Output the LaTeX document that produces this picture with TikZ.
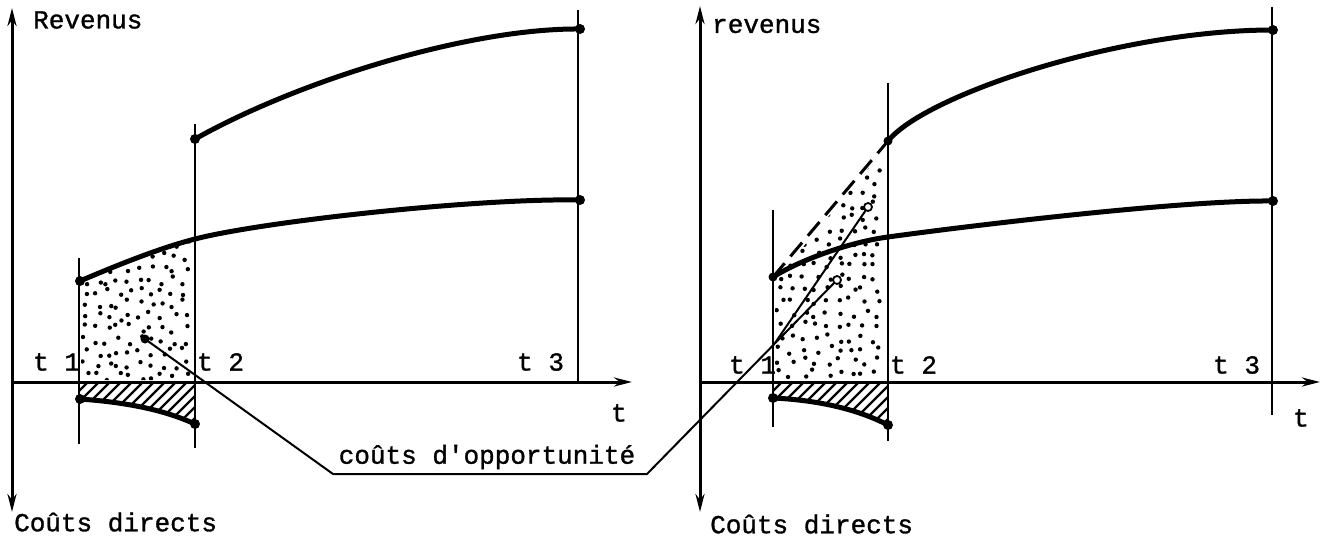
\documentclass[tikz,border=0pt]{standalone}
\usepackage{fontspec}
\newfontfamily\tw{Liberation Mono}[FakeBold=1.2]
\usetikzlibrary{arrows.meta}
\begin{document}
\begin{tikzpicture}[x=1pt,y=-1pt,
  lbl/.style={font=\tw\fontsize{26}{28}\selectfont, inner sep=0pt},
  axis/.style={line width=3pt},
  tline/.style={line width=1.6pt},
  curve/.style={line width=5pt, line cap=round},
  leader/.style={line width=2pt},
  dot/.style={circle, fill=black, inner sep=0pt, minimum size=10pt},
  odot/.style={circle, draw=black, fill=white, line width=1.8pt, inner sep=0pt, minimum size=8pt},
  hatch/.style={line width=2.2pt}
]
\useasboundingbox (0,0) rectangle (1323,540);

% ---------- LEFT PANEL ----------
\coordinate (LYtop) at (12,8);
\coordinate (LYbot) at (12,512);
\coordinate (LO) at (12,382);
\coordinate (LXend) at (632,382);
\draw[axis,{Stealth[length=18pt,width=9pt]}-{Stealth[length=18pt,width=9pt]}] (LYbot) -- (LYtop);
\draw[axis,-{Stealth[length=18pt,width=9pt]}] (LO) -- (LXend);

\coordinate (LT1a) at (79,258);  \coordinate (LT1b) at (79,444);
\coordinate (LT2a) at (195,124); \coordinate (LT2b) at (195,448);
\coordinate (LT3a) at (578,10);  \coordinate (LT3b) at (578,382);
\draw[tline] (LT1a) -- (LT1b);
\draw[tline] (LT2a) -- (LT2b);
\draw[tline] (LT3a) -- (LT3b);

% stipple left (jittered grid)
\begin{scope}
\clip (81,380) -- (81,283) .. controls (120,266) and (160,250) .. (193,241) -- (193,380) -- cycle;
\pgfmathsetseed{7}
\foreach \gx in {86,97,...,192}{
  \foreach \gy in {244,256,...,378}{
    \pgfmathsetmacro{\rx}{\gx+8*rnd-4}
    \pgfmathsetmacro{\ry}{\gy+9*rnd-4.5}
    \fill (\rx,\ry) circle (2.2pt);
  }
}
\end{scope}
% hatch left
\begin{scope}
\clip (79,382) -- (195,382) -- (195,424) .. controls (160,408) and (120,402) .. (80,399) -- cycle;
\foreach \k in {0,11,...,220}{
  \draw[hatch] (30+\k,440) -- (30+\k+70,370);
}
\end{scope}

\coordinate (LU1) at (195,139);
\coordinate (LU2) at (580,29);
\coordinate (LL1) at (80,281);
\coordinate (LL2) at (195,239);
\coordinate (LL3) at (580,200);
\coordinate (LC1) at (80,399);
\coordinate (LC2) at (195,424);
\draw[curve] (LU1) .. controls (300,80) and (470,28) .. (LU2);
\draw[curve] (LL1) .. controls (120,264) and (160,248) .. (LL2) .. controls (265,221) and (480,198) .. (LL3);
\draw[curve] (LC1) .. controls (120,402) and (160,408) .. (LC2);
\node[dot] (dLU1) at (LU1) {};
\node[dot] (dLU2) at (LU2) {};
\node[dot] (dLL1) at (LL1) {};
\node[dot] (dLL3) at (LL3) {};
\node[dot] (dLC1) at (LC1) {};
\node[dot] (dLC2) at (LC2) {};

\node[lbl, anchor=west] (revL) at (33,20) {Revenus};
\node[lbl, anchor=west] (costL) at (14,522) {Coûts directs};
\node[lbl] (tL) at (619,413) {t};
\node[lbl, anchor=west] (t1L) at (33,362) {t 1};
\node[lbl, anchor=west] (t2L) at (197,362) {t 2};
\node[lbl, anchor=west] (t3L) at (517,362) {t 3};

% ---------- RIGHT PANEL ----------
\coordinate (RYtop) at (700,6);
\coordinate (RYbot) at (700,512);
\coordinate (RO) at (700,382);
\coordinate (RXend) at (1320,382);
\draw[axis,{Stealth[length=18pt,width=9pt]}-{Stealth[length=18pt,width=9pt]}] (RYbot) -- (RYtop);
\draw[axis,-{Stealth[length=18pt,width=9pt]}] (RO) -- (RXend);

\coordinate (RT1a) at (773,210);  \coordinate (RT1b) at (773,427);
\coordinate (RT2a) at (888,83);   \coordinate (RT2b) at (888,441);
\coordinate (RT3a) at (1272,7);   \coordinate (RT3b) at (1272,415);
\draw[tline] (RT1a) -- (RT1b);
\draw[tline] (RT2a) -- (RT2b);
\draw[tline] (RT3a) -- (RT3b);

% stipple right (jittered grid)
\begin{scope}
\clip (775,380) -- (775,281) -- (886,147) -- (886,380) -- cycle;
\pgfmathsetseed{11}
\foreach \gx in {780,792,...,886}{
  \foreach \gy in {146,158,...,378}{
    \pgfmathsetmacro{\rx}{\gx+8*rnd-4}
    \pgfmathsetmacro{\ry}{\gy+9*rnd-4.5}
    \fill (\rx,\ry) circle (2.2pt);
  }
}
\end{scope}
% hatch right
\begin{scope}
\clip (773,382) -- (888,382) -- (888,425) .. controls (855,408) and (815,400) .. (773,398) -- cycle;
\foreach \k in {0,11,...,220}{
  \draw[hatch] (724+\k,440) -- (724+\k+70,370);
}
\end{scope}

\coordinate (RU1) at (888,141);
\coordinate (RU2) at (1273,30);
\coordinate (RL1) at (773,277);
\coordinate (RL2) at (888,237);
\coordinate (RL3) at (1273,201);
\coordinate (RC1) at (773,398);
\coordinate (RC2) at (888,425);
\draw[line width=3pt, dash pattern=on 18pt off 9pt] (RL1) -- (RU1);
\draw[curve] (RU1) .. controls (925,95) and (1120,30) .. (RU2);
\draw[curve] (RL1) .. controls (800,260) and (850,242) .. (RL2) .. controls (960,227) and (1180,200) .. (RL3);
\draw[curve] (RC1) .. controls (815,400) and (855,408) .. (RC2);
\node[dot, minimum size=9pt] (dRU1) at (RU1) {};
\node[dot] (dRU2) at (RU2) {};
\node[dot, minimum size=9pt] (dRL1) at (RL1) {};
\node[dot] (dRL3) at (RL3) {};
\node[dot] (dRC1) at (RC1) {};
\node[dot] (dRC2) at (RC2) {};

\node[lbl, anchor=west] (revR) at (712,26) {revenus};
\node[lbl, anchor=west] (costR) at (710,524) {Coûts directs};
\node[lbl] (tR) at (1301,418) {t};
\node[lbl, anchor=west] (t1R) at (729,365) {t 1};
\node[lbl, anchor=west] (t2R) at (890,365) {t 2};
\node[lbl, anchor=west] (t3R) at (1213,365) {t 3};

% ---------- LEADER ----------
\node[lbl] (opp) at (487,457) {coûts d'opportunité};
\coordinate (LP) at (145,339);
\coordinate (OA) at (333,474);
\coordinate (OB) at (647,474);
\coordinate (J) at (775,343);
\coordinate (E1) at (868,207);
\coordinate (E2) at (837,280);
\draw[leader] (LP) -- (OA) -- (OB) -- (E2);
\draw[leader] (J) -- (E1);
\node[dot, minimum size=9pt] (dLP) at (LP) {};
\node[odot] (oE1) at (E1) {};
\node[odot] (oE2) at (E2) {};
\end{tikzpicture}
\end{document}
